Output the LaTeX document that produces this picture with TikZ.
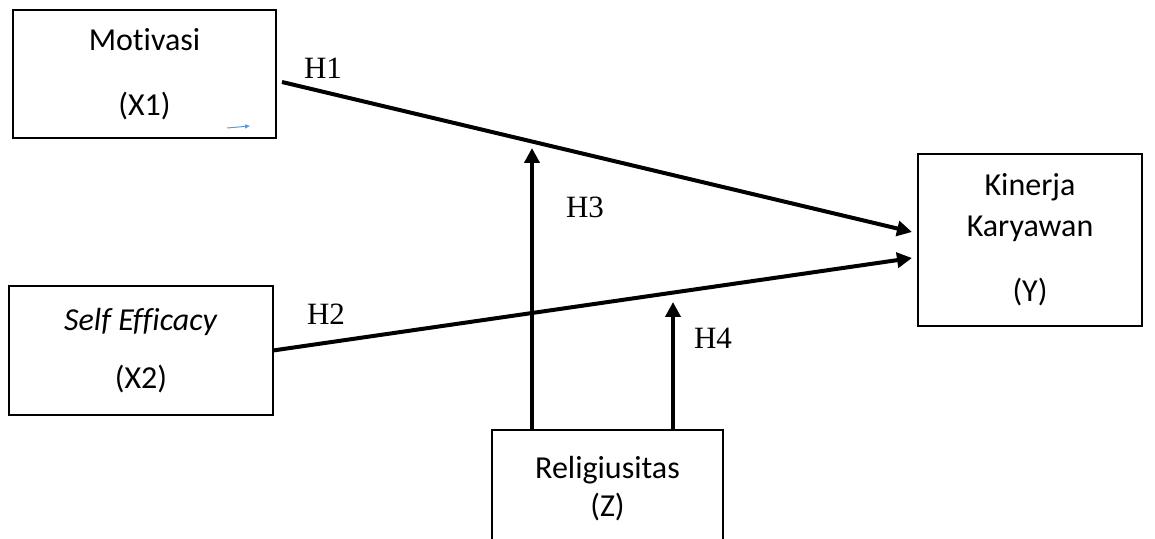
\documentclass[tikz,border=0pt]{standalone}
\usepackage{fontspec}
\setmainfont{Carlito}[Ligatures=NoCommon]
\newfontfamily\hypfont{Liberation Serif}
\usetikzlibrary{arrows.meta, positioning}
\definecolor{tinyblue}{RGB}{91,155,213}

\begin{document}
\begin{tikzpicture}[x=0.5pt, y=-0.5pt,
    var/.style={draw, line width=1pt, inner sep=0pt, outer sep=0pt, align=center,
                font=\fontsize{16}{19}\selectfont},
    hyp/.style={inner sep=0pt, font=\hypfont\fontsize{15.5}{18}\selectfont},
    link/.style={line width=2pt, -{Triangle[length=7.5pt, width=7.5pt]}}]
   \clip (0,0) rectangle (1155,539);

   % Variables
   \node[var, minimum width=131.5pt, minimum height=64pt] (mot) at (144.5,74) {Motivasi\\[13.5pt](X1)};
   \node[var, minimum width=132pt, minimum height=64.5pt] (se) at (141,350.5) {\textit{Self Efficacy}\\[10pt](X2)};
   \node[var, minimum width=112pt, minimum height=86pt] (kin) at (1030,240) {Kinerja\\[1.5pt]Karyawan\\[13.5pt](Y)};
   \node[var, minimum width=115.5pt, minimum height=58.5pt] (rel) at (607.5,488.5) {Religiusitas\\(Z)};

   % Moderation tips
   \coordinate (h3tip) at (532,148);
   \coordinate (h4tip) at (673,302);

   % Paths
   \draw[link] ([shift={(6,8)}]mot.east) -- ([shift={(-6,-8)}]kin.west);
   \draw[link] (se.east) -- ([shift={(-6,18)}]kin.west);
   \draw[link] (rel.north -| h3tip) -- (h3tip);
   \draw[link] (rel.north -| h4tip) -- (h4tip);

   % Hypotheses
   \node[hyp] (h1) at (323,68) {H1};
   \node[hyp] (h2) at (326,314) {H2};
   \node[hyp] (h3) at (585,207) {H3};
   \node[hyp] (h4) at (713,338) {H4};

   % Stray mark
   \coordinate (b0) at (227,128);
   \coordinate (b1) at (250,126);
   \draw[tinyblue, line width=0.5pt, -{Triangle[length=2.5pt, width=2pt]}] (b0) -- (b1);
\end{tikzpicture}
\end{document}
